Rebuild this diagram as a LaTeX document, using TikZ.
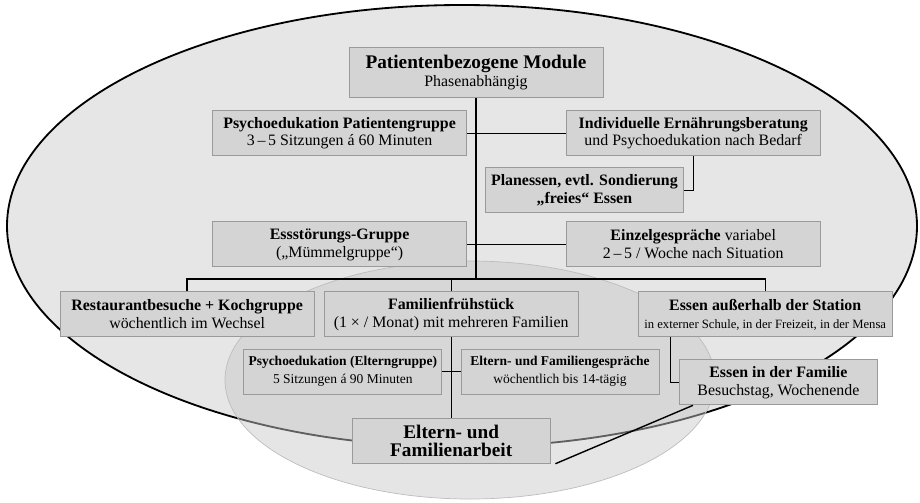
\documentclass[tikz,border=0pt]{standalone}
\usepackage{fontspec}
\setmainfont{Liberation Serif}
\definecolor{ovalFill}{HTML}{E6E6E7}
\definecolor{innerFill}{HTML}{C8C8C8}
\definecolor{innerLine}{HTML}{BDBDBD}
\definecolor{boxFill}{HTML}{D4D4D4}
\definecolor{boxLine}{HTML}{9A9A9A}
\newcommand{\titleSize}{\fontsize{13.7}{13}\selectfont}
\newcommand{\textSize}{\fontsize{11.3}{12.8}\selectfont}
\newcommand{\smallSize}{\fontsize{9.6}{12.8}\selectfont}
\tikzstyle{recNode} = [rectangle, minimum width=6.35cm, minimum height=1.125cm, inner sep=1pt, align=center, text centered, draw=boxLine, fill=boxFill, line width=0.6pt, font=\textSize]
\tikzstyle{recNodeS} = [recNode, minimum width=4.95cm]
\tikzstyle{recNodeT} = [recNode, minimum height=1.25cm, font=\titleSize]
\tikzstyle{line} = [line width=1pt, draw=black]

\begin{document}
\begin{tikzpicture}[node distance=1.75cm]
    \useasboundingbox (0,0) rectangle (23,-12.55);
    % ovals
    \path [fill=ovalFill, draw=black, line width=1.3pt] (11.55,-5.65) ellipse [x radius=11.375cm, y radius=5.525cm];
    \path [fill=innerFill, fill opacity=0.48, draw=innerLine, line width=0.5pt] (11.75,-9.5) ellipse [x radius=6.125cm, y radius=2.975cm];

    \node (module) [recNodeT] at (11.9,-1.81) {\textbf{Patientenbezogene Module}\\{\textSize Phasenabhängig}};
    \node (psypat) [recNode, below of=module, xshift=-3.41cm, yshift=0.23cm] {\textbf{Psychoedukation Patientengruppe}\\3\,–\,5 Sitzungen á 60 Minuten};
    \node (ernaehrung) [recNode, right of=psypat, xshift=7.09cm] {\textbf{Individuelle Ernährungsberatung}\\und Psychoedukation nach Bedarf};
    \node (planessen) [recNodeS, below of=ernaehrung, xshift=-2.72cm, yshift=0.32cm] {\textbf{Planessen, evtl. Sondierung}\\\textbf{„freies“ Essen}};
    \node (essstoerung) [recNode, below of=psypat, yshift=-1.03cm] {\textbf{Essstörungs-Gruppe}\\(„Mümmelgruppe“)};
    \node (einzel) [recNode, below of=ernaehrung, yshift=-1.03cm] {\textbf{Einzelgespräche} variabel\\2\,–\,5 / Woche nach Situation};
    \node (restaurant) [recNode, below of=essstoerung, xshift=-3.81cm] {\textbf{Restaurantbesuche + Kochgruppe}\\wöchentlich im Wechsel};
    \node (fruehstueck) [recNode, below of=essstoerung, xshift=2.79cm] {\textbf{Familienfrühstück}\\(1 × / Monat) mit mehreren Familien};
    \node (ausserhalb) [recNode, below of=einzel, xshift=1.8cm] {\textbf{Essen außerhalb der Station}\\{\fontsize{9}{12}\selectfont in externer Schule, in der Freizeit, in der Mensa}};
    \node (psyeltern) [recNodeS, below of=fruehstueck, xshift=-2.71cm, yshift=0.32cm, font=\smallSize] {\textbf{Psychoedukation (Elterngruppe)}\\5 Sitzungen á 90 Minuten};
    \node (gespraeche) [recNodeS, below of=fruehstueck, xshift=2.72cm, yshift=0.32cm, font=\smallSize] {\textbf{Eltern- und Familiengespräche}\\wöchentlich bis 14-tägig};
    \node (eltern) [recNodeS, below of=fruehstueck, yshift=-1.41cm, font=\titleSize] {\textbf{Eltern- und}\\\textbf{Familienarbeit}};
    \node (essenfam) [recNodeS, below of=ausserhalb, xshift=0.33cm, yshift=0.05cm] {\textbf{Essen in der Familie}\\Besuchstag, Wochenende};

    \coordinate (busL) at ([yshift=0.31cm]restaurant.north);
    \coordinate (busR) at ([yshift=0.31cm]ausserhalb.north);
    \draw [line] (restaurant.north) -- (busL) -- (busR) -- (ausserhalb.north);
    \draw [line] (module.south) -- (module.south |- busL);
    \draw [line] (fruehstueck.north) -- (fruehstueck.north |- busL);
    \draw [line] (psypat) -- (ernaehrung);
    \draw [line] (essstoerung) -- (einzel);
    \draw [line] (ernaehrung.south) |- (planessen.east);
    \draw [line] (fruehstueck.south) -- (eltern.north);
    \draw [line] (psyeltern) -- (gespraeche);
    \draw [line] ([xshift=0.82cm]ausserhalb.south west) |- (essenfam.west);
    \draw [line] ([xshift=0.12cm]eltern.south east) -- ([xshift=0.35cm]essenfam.south west);
\end{tikzpicture}
\end{document}
